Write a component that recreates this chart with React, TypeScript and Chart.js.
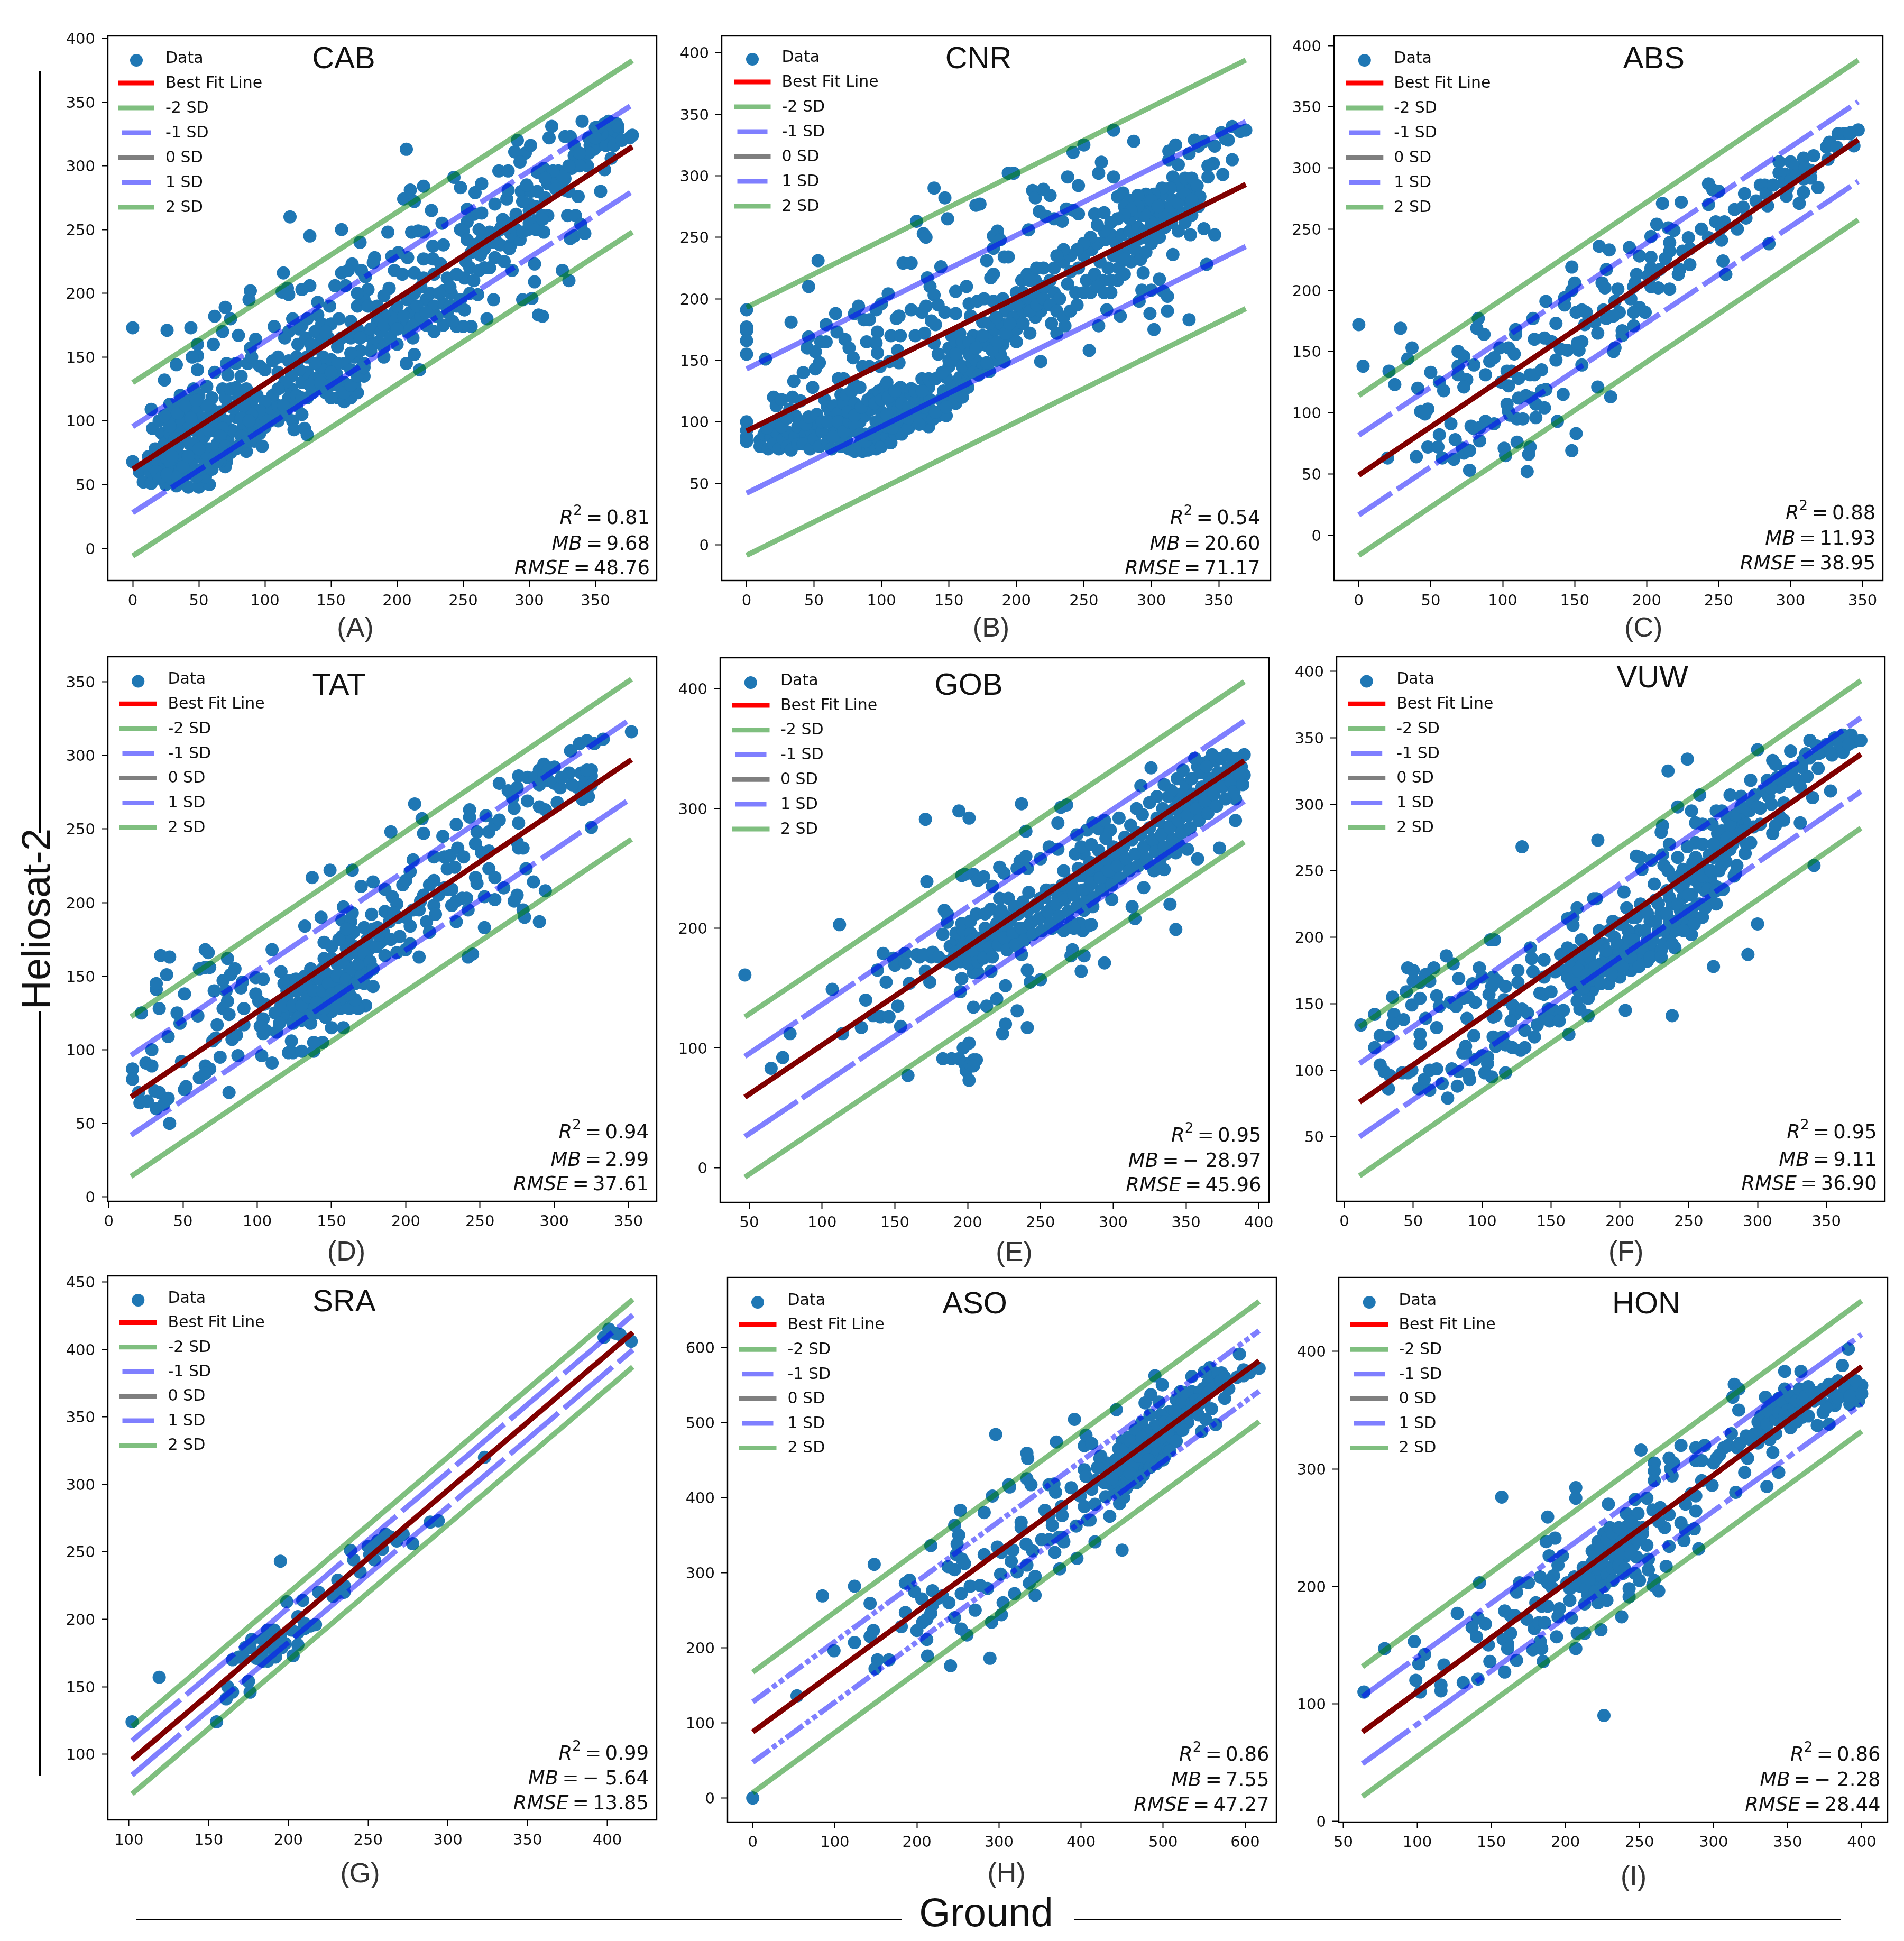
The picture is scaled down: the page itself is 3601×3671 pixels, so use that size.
import React, { useEffect, useRef } from "react";
import { Chart, registerables } from "chart.js";

Chart.register(...registerables);

// ---------- data ----------
const cabPoints = [[0,173],[26,171],[44,173],[0,68],[33,144],[24,132],[49,160],[49,151],[45,150],[49,140],[61,160],[62,182],[74,180],[70,189],[68,170],[80,167],[88,195],[89,202],[93,164],[89,157],[114,216],[119,260],[134,245],[158,250],[172,240],[107,174],[121,180],[117,204],[113,201],[118,199],[134,206],[128,203],[140,193],[149,190],[153,206],[161,206],[166,223],[158,216],[163,218],[173,218],[183,228],[182,224],[176,213],[178,203],[193,248],[194,204],[205,274],[210,281],[220,284],[213,272],[207,313],[226,265],[243,291],[248,283],[259,279],[264,286],[253,266],[264,263],[253,256],[234,255],[235,238],[227,237],[211,248],[216,249],[220,248],[201,232],[196,229],[208,228],[220,227],[227,227],[233,223],[198,218],[204,215],[213,216],[248,250],[250,249],[253,242],[256,232],[264,242],[263,230],[274,228],[281,225],[287,218],[266,220],[255,220],[251,212],[238,212],[235,202],[241,200],[261,199],[273,195],[268,180],[256,174],[250,174],[245,174],[251,187],[286,238],[274,243],[279,252],[274,270],[283,274],[277,296],[284,296],[291,320],[289,311],[297,310],[301,316],[293,303],[284,281],[294,280],[301,280],[306,280],[300,270],[298,285],[306,295],[311,298],[316,293],[322,291],[327,290],[332,298],[314,286],[327,281],[337,276],[314,261],[329,261],[335,261],[339,254],[342,247],[334,245],[331,243],[310,261],[306,257],[311,248],[299,250],[293,242],[286,247],[304,223],[304,209],[325,218],[330,210],[295,195],[302,196],[307,183],[310,182],[354,280],[357,297],[317,331],[315,322],[327,323],[331,323],[340,335],[334,316],[346,316],[334,308],[341,306],[344,300],[352,316],[362,306],[357,333],[366,333],[367,328],[362,324],[359,328],[357,321],[352,323],[349,313],[376,322],[378,324],[367,331],[361,318],
[5,60],[8,52],[13,60],[14,51],[15,94],[14,109],[20,100],[22,90],[17,78],[12,72],[10,65],[18,66],[22,70],[25,62],[20,55],[25,50],[29,55],[33,49],[38,53],[42,48],[44,60],[50,48],[58,50],[55,56],[47,62],[30,62],[34,67],[38,72],[28,78],[24,82],[28,90],[32,97],[30,105],[28,113],[35,113],[36,120],[42,116],[46,125],[50,120],[52,112],[47,108],[40,106],[37,100],[39,88],[43,82],[34,80],[45,75],[50,72],[55,68],[58,78],[52,85],[48,92],[54,96],[57,103],[60,118],[56,127],[62,138],[59,110],[62,92],[64,82],[68,75],[71,68],[70,64],[66,68],[72,85],[74,93],[70,100],[66,107],[72,112],[70,118],[68,125],[74,125],[78,126],[72,136],[71,145],[78,145],[82,135],[86,125],[90,115],[92,107],[85,110],[78,103],[76,92],[80,80],[86,76],[92,84],[98,80],[88,92],[84,97],[90,97],[96,90],[100,95],[104,100],[108,104],[94,120],[87,145],[90,150],[96,143],[100,140],[106,147],[110,138],[113,127],[118,118],[117,110],[124,112],[121,100],[116,105],[122,93],[130,94],[132,89],[128,105],[132,118],[136,122],[140,125],[128,130],[132,138],[138,133],[145,135],[150,128],[155,118],[160,115],[165,118],[170,122],[175,135],[172,140],[168,128],[160,130],[154,137],[147,143],[142,142],[150,148],[160,145],[168,150],[175,145],[172,155],[165,153],[124,150],[118,147],[110,150],[118,170],[115,165],[125,160],[131,165],[138,170],[128,175],[126,172],[132,180],[140,183],[143,176],[150,176],[148,165],[158,165],[156,180],[165,178],[170,190],[175,195],[170,200],[178,190],[170,172],[178,167],[182,160],[186,162],[190,158],[180,155],[190,150],[200,160],[207,145],[213,152],[217,140],[212,165],[205,175],[210,185],[198,185],[190,183],[185,178],[195,175],[190,198],[200,190],[208,195],[215,178],[222,175],[228,170],[235,175],[242,178],[222,195],[228,190],[225,200],[235,192],[245,190],[240,205],[218,205],[213,200],[220,212],[228,215],[245,215],[262,218],[270,220],[278,238],[285,235],[290,250],[295,248],[300,255],[305,250],[310,258],[300,265],[280,258],[270,248],[262,250],[258,262],[318,288],[325,287],[330,280],[322,296],[338,300],[345,310],[350,330],[358,316],[364,316],[370,320],[355,325]];
const cabClusterPoints = [[20,62],[24,72],[28,68],[32,60],[36,62],[40,58],[44,66],[48,56],[52,62],[56,74],[60,62],[62,72],[64,68],[18,60],[16,70],[22,56],[26,58],[30,72],[34,56],[38,64],[42,72],[46,82],[50,78],[54,88],[58,92],[60,100],[64,100],[68,94],[62,104],[56,112],[52,102],[46,98],[42,94],[36,90],[32,86],[28,96],[24,104],[34,106],[40,112],[44,102],[48,116],[66,88],[70,80],[74,75],[78,78],[82,88],[86,84],[92,92],[96,98],[100,104],[104,110],[110,112],[106,120],[100,115],[96,108],[90,105],[84,112],[80,118],[76,110],[82,102],[88,100],[110,100],[114,112],[120,125],[124,120],[128,118],[134,128],[142,130],[146,122],[150,118],[155,128],[160,122],[165,128],[170,135],[175,142],[165,140],[155,145],[150,138],[144,150],[138,145],[132,150],[126,140],[120,135],[115,130],[110,125],[125,148],[136,156],[142,162],[135,160],[146,170],[155,158],[165,165],[172,165],[180,172],[188,170],[195,165],[185,190],[190,175],[198,178],[205,182],[212,175],[218,182],[208,170],[200,172],[215,190],[222,185],[230,182],[238,185],[232,200],[240,190],[248,195],[255,200],[258,210],[252,225],[258,238],[266,235],[272,240],[278,250],[285,255],[290,262],[295,272],[305,268],[312,275],[320,282],[326,292],[318,296],[312,290],[330,300],[338,310],[345,322],[352,330],[360,335],[350,322]];
const cabLines = { x: [0, 378], best: [62, 315], m2: [-6, 248], m1: [28, 280], p1: [95.5, 348], p2: [130, 382.5] };
const cabStats = ["0.81", "9.68", "48.76"];

const cnrPoints = [[0,191],[0,177],[0,174],[0,166],[0,155],[0,100],[0,93],[0,88],[0,84],[14,151],[46,210],[53,231],[33,181],[35,133],[42,140],[49,128],[46,169],[45,160],[51,157],[54,148],[51,143],[55,165],[59,165],[59,179],[66,188],[67,173],[73,167],[76,160],[79,152],[80,188],[83,194],[87,183],[91,183],[96,191],[100,196],[105,204],[97,173],[107,170],[114,170],[89,165],[96,164],[97,156],[86,145],[91,145],[99,145],[106,149],[112,158],[113,148],[113,186],[111,184],[122,191],[116,229],[122,229],[126,263],[131,253],[133,250],[139,290],[147,282],[149,265],[144,226],[134,217],[136,210],[139,203],[142,195],[147,189],[130,189],[133,194],[137,182],[140,179],[125,170],[132,172],[139,164],[152,170],[155,206],[155,188],[163,210],[170,276],[173,277],[165,196],[171,198],[176,200],[183,198],[166,186],[175,181],[183,182],[178,231],[181,217],[183,220],[183,241],[186,255],[183,251],[188,248],[191,234],[194,234],[194,302],[198,302],[209,256],[212,288],[214,282],[220,289],[225,284],[217,271],[222,267],[228,265],[234,263],[237,273],[242,272],[246,269],[238,299],[246,292],[242,319],[250,325],[272,337],[287,328],[261,302],[263,311],[272,299],[275,283],[279,286],[258,269],[265,270],[254,158],[218,149],[180,141],[191,149],[135,96],[267,191],[277,186],[261,178],[291,198],[299,188],[302,175],[312,190],[328,183],[293,207],[300,207],[309,206],[312,202],[306,216],[294,221],[341,228],[316,236],[339,257],[347,252],[329,252],[360,313],[353,301],[347,324],[346,310],[342,308],[342,299],[352,335],[357,329],[360,340],[366,336],[370,337],[355,330],[332,329],[339,328],[335,324],[328,318],[313,320],[318,325],[313,313],[320,309],[316,299],
[10,85],[10,80],[13,90],[16,78],[18,88],[20,82],[22,92],[24,78],[27,86],[30,80],[33,77],[30,92],[36,88],[38,82],[38,96],[36,105],[40,100],[44,90],[42,82],[47,78],[48,92],[50,86],[50,99],[54,80],[56,92],[60,84],[63,78],[65,95],[70,80],[68,88],[74,85],[72,100],[76,78],[80,76],[78,93],[84,82],[86,76],[84,100],[90,77],[88,90],[92,80],[96,78],[94,92],[98,85],[100,80],[100,90],[104,88],[104,96],[107,83],[110,90],[108,102],[112,96],[115,90],[117,100],[120,95],[122,105],[118,110],[126,100],[128,108],[132,103],[136,110],[138,102],[142,105],[145,110],[148,105],[150,120],[146,125],[155,115],[158,123],[160,120],[152,130],[148,136],[158,136],[162,132],[165,140],[150,145],[156,150],[160,145],[167,148],[170,150],[175,145],[185,150],[190,163],[188,155],[195,170],[200,165],[196,178],
[20,120],[22,113],[26,118],[34,120],[40,117],[58,118],[60,112],[62,108],[65,113],[68,107],[72,115],[70,122],[74,122],[78,125],[72,135],[68,135],[80,115],[80,130],[84,128],[88,105],[92,110],[94,122],[98,125],[100,108],[102,128],[104,132],[108,115],[112,110],[114,120],[114,128],[122,122],[126,118],[130,112],[133,120],[135,128],[130,135],[122,127],[142,155],[150,160],[155,165],[160,160],[165,155],[158,172],[168,170],[172,165],[178,162],[180,170],[184,175],[188,180],[192,190],[198,185],[200,175],[205,180],[210,172],[214,185],[218,190],[222,195],[226,180],[230,172],[236,178],[205,195],[210,200],[215,205],[222,210],[228,205],[232,200],[238,212],[244,205],[200,205],[204,215],[208,220],[214,215],[220,225],[228,225],[235,230],[240,222],[246,225],[252,215],[258,220],[264,215],[270,205],[275,215],[250,235],[256,240],[262,230],[268,225],[272,235],[276,225],[280,220],[260,245],[266,248],[270,252],[274,245],[280,238],[285,230],[288,240],[292,232],[296,238],[300,245],[278,252],[284,255],[290,258],[294,250],[300,255],[306,250],[284,265],[288,272],[292,268],[296,278],[300,272],[305,265],[310,258],[315,262],[320,255],[325,262],[330,268],[335,275],[326,270],[320,270],[314,272],[308,275],[304,280],[310,285],[316,280],[322,282],[328,278],[332,285],[326,290],[320,292],[314,290],[308,290],[302,285],[296,285],[290,284],[284,280],[280,275],[325,298],[330,298],[334,292],[336,283]];
const cnrClusterPoints = [[15,95],[22,100],[26,96],[30,103],[32,110],[44,98],[46,104],[52,106],[56,100],[60,100],[64,88],[68,100],[72,92],[76,100],[80,98],[84,90],[88,84],[92,90],[96,100],[100,100],[104,106],[108,95],[112,102],[116,108],[120,103],[124,110],[128,98],[132,112],[136,118],[140,108],[144,118],[148,112],[152,122],[156,128],[160,130],[164,128],[168,140],[172,138],[178,148],[182,158],[186,165],[192,172],[75,108],[80,105],[85,112],[90,118],[95,115],[100,118],[105,120],[110,125],[115,115],[120,112],[125,125],[130,125],[135,135],[140,135],[145,140],[150,150],[155,155],[160,165],[165,165],[170,160],[175,170],[180,180],[185,185],[195,180],[205,190],[210,190],[215,195],[220,200],[225,195],[230,190],[235,185],[240,190],[245,195],[250,205],[255,205],[260,210],[265,205],[270,215],[275,235],[280,232],[285,245],[290,248],[295,255],[300,262],[305,258],[310,268],[315,275],[320,278],[325,285],[330,280],[295,268],[300,280],[305,275],[290,275],[285,272],[280,268],[275,265],[270,262],[265,255],[260,260],[255,250],[250,245],[245,240],[240,235],[235,240],[230,235],[225,215],[220,210],[215,225],[210,215],[205,205],[200,195],[195,195],[190,200]];
const cnrLines = { x: [0, 370], best: [92.5, 293], m2: [-8.5, 192], m1: [42, 242.5], p1: [143, 344], p2: [193, 394] };
const cnrStats = ["0.54", "20.60", "71.17"];

const absPoints = [[0,172],[3,138],[29,169],[37,153],[34,144],[21,134],[25,123],[41,120],[50,133],[20,63],[40,64],[48,72],[43,101],[48,103],[46,99],[56,125],[59,118],[64,91],[56,82],[55,72],[58,63],[66,62],[67,78],[72,71],[73,67],[77,69],[77,53],[78,89],[80,87],[84,77],[69,150],[73,146],[69,138],[69,131],[75,127],[73,121],[80,139],[82,169],[83,177],[87,164],[88,131],[91,142],[94,145],[98,153],[104,153],[108,148],[109,168],[109,164],[88,93],[94,91],[84,88],[103,134],[106,134],[99,125],[104,122],[111,128],[103,107],[104,101],[105,98],[110,95],[114,95],[111,112],[116,114],[120,112],[123,107],[129,104],[123,96],[101,71],[102,65],[110,76],[119,72],[118,66],[117,52],[119,131],[122,131],[127,135],[127,118],[130,119],[122,160],[129,161],[121,177],[130,191],[137,173],[134,158],[140,152],[145,151],[137,143],[142,115],[138,93],[151,83],[148,69],[155,139],[155,158],[153,151],[152,157],[143,188],[143,194],[148,200],[150,206],[148,219],[151,182],[155,184],[158,182],[157,172],[164,174],[166,165],[167,236],[174,233],[172,217],[169,206],[171,202],[180,201],[178,191],[181,182],[172,177],[177,179],[170,184],[183,167],[183,163],[178,153],[177,150],[191,171],[166,121],[175,113],[189,193],[195,186],[191,182],[199,182],[188,235],[195,228],[193,213],[192,206],[191,203],[203,227],[203,244],[207,254],[211,271],[224,272],[215,251],[219,249],[216,239],[216,232],[213,226],[203,218],[205,213],[201,212],[209,217],[203,203],[208,202],[216,201],[222,213],[223,217],[230,221],[225,232],[230,234],[229,243],[238,250],[243,243],[252,241],[253,224],[255,213],[285,238],[243,287],[246,282],[250,281],[243,270],[248,256],[254,256],[252,251],[263,250],[261,266],[267,268],[269,259],[268,279],[276,273],[279,286],[282,286],[284,269],[283,279],[288,286],[292,305],[292,296],[296,295],[300,305],[303,301],[297,277],[298,284],[306,271],[309,280],[309,291],[314,292],[319,284],[314,298],[309,308],[316,310],[325,317],[327,321],[326,307],[332,317],[333,328],[337,328],[342,329],[344,318],[347,331],[341,328],[295,288],[300,290],[304,294],[310,300]];
const absLines = { x: [0, 347], best: [49, 323], m2: [-16.5, 257.5], m1: [16.5, 289], p1: [81.6, 354], p2: [114, 388] };
const absStats = ["0.88", "11.93", "38.95"];

const tatPoints = [[16,87],[16,80],[20,71],[21,64],[26,65],[22,125],[25,91],[29,89],[29,100],[31,72],[34,71],[32,60],[37,63],[40,67],[41,50],[34,128],[32,141],[32,145],[35,164],[41,163],[39,151],[40,109],[46,125],[48,118],[51,138],[60,123],[49,92],[51,73],[52,75],[61,81],[65,89],[68,87],[65,84],[70,106],[72,108],[75,95],[81,71],[83,107],[86,110],[87,96],[73,117],[77,128],[81,124],[61,155],[65,156],[68,156],[65,168],[67,166],[80,162],[85,155],[82,151],[77,147],[71,140],[79,140],[80,133],[89,142],[91,128],[91,117],[90,146],[99,149],[104,148],[99,138],[101,133],[105,131],[104,121],[102,116],[104,111],[106,113],[103,96],[110,91],[113,112],[110,168],[116,153],[121,147],[118,145],[121,98],[124,98],[130,99],[138,99],[144,105],[138,105],[123,106],[132,184],[137,217],[149,222],[164,222],[143,190],[145,173],[145,162],[150,162],[136,155],[158,197],[164,193],[157,188],[163,187],[157,177],[162,177],[160,169],[170,211],[178,214],[177,192],[172,183],[178,182],[181,183],[186,209],[190,248],[191,204],[194,199],[186,194],[192,193],[189,187],[196,177],[183,173],[186,164],[194,166],[200,168],[198,212],[200,215],[203,221],[205,229],[206,267],[211,257],[212,247],[219,231],[219,215],[216,212],[209,163],[203,172],[203,184],[209,195],[210,201],[214,187],[219,198],[220,192],[216,180],[225,245],[226,231],[228,223],[230,232],[233,224],[234,253],[235,237],[239,231],[228,209],[231,209],[234,201],[238,203],[241,203],[231,198],[234,187],[242,195],[242,163],[245,165],[247,217],[248,213],[247,240],[248,248],[243,263],[243,258],[253,204],[260,202],[253,183],[256,223],[260,217],[251,234],[256,235],[254,259],[256,248],[260,253],[263,256],[266,210],[263,281],[269,276],[275,278],[273,264],[272,271],[276,254],[275,241],[276,237],[279,237],[281,223],[275,205],[273,201],[286,214],[294,208],[279,195],[280,190],[290,187],[282,269],[276,286],[282,285],[287,285],[290,290],[293,294],[300,292],[293,286],[296,283],[300,281],[304,278],[290,265],[294,263],[302,268],[310,288],[318,288],[325,290],[325,286],[321,283],[316,278],[319,270],[322,275],[325,251],[311,303],[317,308],[322,310],[327,308],[333,311],[352,316],[323,272],[325,280],
[116,130],[118,122],[120,135],[122,128],[124,118],[126,140],[126,125],[128,132],[130,148],[130,120],[132,140],[134,128],[136,145],[136,118],[138,135],[140,125],[140,150],[142,138],[144,130],[144,155],[146,122],[146,142],[148,132],[150,150],[150,126],[152,138],[154,145],[154,158],[156,128],[156,133],[158,150],[160,140],[160,158],[162,128],[164,146],[164,135],[166,155],[168,150],[168,165],[170,160],[172,145],[172,155],[175,168],[175,160],[178,143],[173,130],[168,128],[166,134],[158,115],[150,115],[145,128]];
const tatClusterPoints = [[112,125],[115,118],[118,130],[120,140],[124,130],[126,148],[128,122],[130,130],[132,150],[134,136],[136,124],[138,140],[140,132],[142,148],[144,140],[146,152],[148,145],[150,138],[152,130],[154,150],[156,140],[158,160],[160,148],[162,138],[162,165],[164,155],[166,145],[166,170],[168,158],[170,170],[170,150],[172,165],[174,175],[174,152],[176,160],[178,155],[180,170],[182,178],[165,180],[160,182],[155,175],[150,170],[185,180],[190,175],[195,190],[200,190],[205,195],[212,205],[222,205],[226,210],[290,280],[296,290],[305,285],[312,280],[322,290],[318,272]];
const tatLines = { x: [15, 352], best: [68, 297], m2: [14, 243], m1: [42, 271], p1: [96.3, 325], p2: [122.5, 351.7] };
const tatStats = ["0.94", "2.99", "37.61"];

const gobPoints = [[47,161],[65,83],[73,92],[78,112],[112,203],[107,149],[114,112],[159,77],[171,291],[194,298],[201,292],[172,239],[237,304],[240,281],[264,301],[268,303],[262,288],[326,334],[319,319],[384,308],[384,290],[373,267],[358,258],[351,266],[343,263],[343,199],[339,220],[313,218],[315,208],[299,224],[321,234],[335,249],[294,171],[280,177],[278,164],[272,182],[271,177],[250,157],[243,155],[241,165],[226,152],[237,178],[234,185],[227,186],[220,141],[213,135],[204,134],[234,131],[226,120],[224,112],[241,117],[201,104],[197,100],[204,90],[183,91],[189,91],[194,91],[198,87],[199,81],[201,73],[202,86],[206,90],[204,85],[130,140],[127,117],[135,127],[140,126],[146,126],[152,135],[154,118],[144,155],[138,165],[142,179],[149,175],[150,169],[157,179],[157,171],[160,154],[167,176],[171,164],[174,155],[175,176],[195,147],[196,158],[204,163],[207,163],[216,164],
[165,178],[170,178],[176,180],[180,176],[186,172],[190,175],[194,180],[198,172],[202,178],[205,176],[188,185],[192,190],[196,188],[200,186],[204,185],[208,183],[212,180],[192,196],[197,198],[202,196],[206,192],[210,192],[214,188],[218,186],[196,204],[202,206],[183,195],[186,205],[184,215],[186,212],[206,212],[212,200],[216,198],[220,204],[224,200],[230,196],[234,190],[212,212],[216,216],[222,210],[226,210],[230,208],[236,200],[240,196],[244,205],[196,244],[198,245],[204,245],[207,240],[211,243],[217,235],[222,225],[223,215],[225,246],[222,251],[228,225],[232,218],[236,256],[241,250],[240,260],[234,250],[238,222],[242,230],[246,218],[250,225],[254,232],[258,218],[262,225],[266,232],[262,207],[266,198],[258,200],[248,220],[254,212],[250,258],[256,268],[262,266],[266,248],[270,240],[274,232],[278,220],[282,226],[286,218],[276,250],[280,244],[284,236],[288,242],[292,232],[296,238],[280,262],[284,255],[288,252],[292,250],[296,248],[300,246],[274,262],[278,268],[282,282],[286,288],[290,283],[294,290],[298,282],[304,292],[308,276],[312,286],[316,280],[300,268],[304,262],[308,255],[312,250],[320,260],[324,254],[328,248],[332,255],[336,262],[340,265],[345,270],[350,282],[325,270],[330,272],[334,280],[338,285],[342,288],[346,294],[350,298],[354,305],[358,310],[362,315],[366,325],[330,292],[334,300],[338,310],[342,300],[346,312],[350,320],[354,325],[358,335],[362,338],[366,340],[370,340],[374,342],[378,345],[382,342],[386,340],[390,345],[356,342],[360,330],[364,335],[368,345],[372,330],[376,322],[380,325],[384,330],[388,335],[390,328],[340,315],[344,325],[348,332],[352,310],[356,300],[360,295],[364,305],[368,310],[372,318],[345,305],[335,320],[330,310],[325,305],[320,295],[316,300],[280,215],[283,202],[277,204],[279,198],[285,203],[271,205],[273,200],[300,255],[290,265],[295,275],[285,270],[275,278]];
const gobClusterPoints = [[190,170],[192,180],[195,172],[197,185],[199,176],[201,170],[203,190],[205,180],[207,172],[209,186],[211,175],[213,195],[215,184],[217,176],[219,196],[221,186],[223,202],[225,192],[227,182],[229,206],[231,196],[233,186],[235,212],[237,200],[239,190],[241,214],[243,204],[245,195],[247,220],[249,208],[251,198],[253,226],[255,214],[257,204],[259,232],[261,220],[263,210],[265,236],[267,224],[269,214],[271,238],[273,228],[275,218],[277,244],[279,232],[281,222],[283,250],[285,238],[287,226],[289,254],[291,242],[293,232],[295,258],[297,248],[299,236],[301,264],[303,252],[305,242],[307,268],[309,258],[311,248],[313,274],[315,262],[317,252],[319,278],[321,268],[323,258],[325,284],[327,274],[329,264],[331,290],[333,278],[335,268],[337,296],[339,284],[341,274],[343,300],[345,290],[347,280],[349,306],[351,294],[353,284],[355,312],[357,300],[359,290],[361,318],[363,306],[365,296],[367,322],[369,312],[371,302],[373,328],[375,318],[377,308],[379,334],[381,322],[383,314],[385,342],[387,328],[389,320]];
const gobLines = { x: [47, 390], best: [59, 340], m2: [-8, 272], m1: [26, 306], p1: [93, 373], p2: [126, 406] };
const gobStats = ["0.95", "\u2212 28.97", "45.96"];

const vuwPoints = [[12,134],[22,142],[26,126],[32,125],[22,117],[26,104],[29,99],[33,96],[32,86],[35,155],[36,142],[35,135],[43,138],[45,159],[46,177],[50,175],[50,167],[49,149],[55,154],[55,127],[55,120],[59,139],[67,132],[59,172],[62,167],[55,166],[65,177],[74,186],[79,180],[67,156],[69,148],[77,151],[81,148],[83,169],[89,139],[86,154],[93,165],[95,151],[90,155],[98,177],[100,170],[94,126],[88,118],[86,113],[88,113],[95,108],[100,111],[104,110],[104,105],[102,98],[107,95],[42,98],[46,98],[49,100],[54,86],[58,93],[62,100],[62,85],[67,101],[71,90],[75,79],[78,101],[82,88],[83,99],[90,97],[91,93],[106,198],[109,198],[108,170],[111,167],[107,163],[105,157],[108,149],[108,140],[110,141],[117,163],[116,153],[122,149],[124,142],[121,137],[108,125],[115,125],[110,118],[117,119],[117,98],[122,117],[128,115],[131,117],[131,130],[129,146],[133,143],[138,125],[140,134],[126,166],[126,175],[135,192],[136,184],[137,174],[145,183],[145,170],[142,158],[145,157],[150,159],[153,174],[152,145],[148,146],[145,139],[149,137],[156,137],[159,145],[163,127],[157,187],[162,192],[162,214],[166,209],[169,222],[166,215],[181,229],[183,229],[184,273],[129,268],[172,198],[177,141],[171,146],[169,152],[177,154],
[204,145],[238,141],[268,178],[293,187],[300,210],[252,202],[236,201],[275,236],[283,246],[235,325],[249,334],[300,341],[258,307],[242,298],[252,295],[231,284],[230,279],[236,270],[212,261],[215,260],[223,258],[216,251],[231,262],[203,234],[341,254],[331,286],[353,310],[340,305],[324,340],[311,333],[313,330],[295,318],[307,318],[280,307],[288,306],[298,307],[302,297],[308,306],[310,300],[319,301],[316,313],[322,317],[326,327],[329,318],[336,321],[331,313],[344,327],[335,338],[333,333],[338,348],[343,344],[346,339],[353,339],[354,337],[357,348],[362,339],[364,348],[368,352],[370,347],[375,348],[362,352],[316,291],[319,288],[311,278],[313,284],[295,271],[291,263],[285,254],[284,248],[277,257],[274,254],[302,285],[297,283],[291,286],[285,285],[288,294],[274,295],[270,295],[267,285],[271,278],[276,272],[280,266],[283,282],[255,286],[260,285],[255,271],[260,270],[249,268],[242,260],[246,251],[253,256],[259,254],[257,245],[266,243],[260,239],[246,239],[239,245],[232,254],[252,221],[243,213],
[165,165],[168,172],[170,180],[174,170],[176,182],[178,175],[180,190],[184,170],[186,180],[188,195],[190,176],[192,165],[193,185],[196,200],[198,178],[199,190],[202,210],[204,185],[206,198],[208,175],[209,215],[212,192],[214,205],[216,185],[218,222],[220,198],[222,212],[224,190],[226,228],[228,205],[230,218],[232,195],[234,235],[236,212],[238,225],[240,205],[242,240],[244,220],[246,230],[248,212],[250,250],[252,232],[254,215],[256,242],[258,225],[260,255],[262,235],[264,246],[266,228],[268,260],[270,238],[272,250],[274,268],[276,278],[278,290],[265,262],[255,260],[245,248],[235,250],[225,240],[215,225],[205,222],[195,212],[185,205],[175,192],[165,185],[160,175],[170,160],[180,160],[190,186],[200,170],[210,178],[220,182],[230,190],[240,192],[250,205],[260,215],[270,225]];
const vuwClusterPoints = [[162,170],[164,178],[166,190],[168,165],[170,175],[172,188],[174,162],[176,172],[178,185],[180,168],[182,178],[184,195],[186,165],[188,175],[190,190],[192,205],[194,172],[196,182],[198,195],[200,210],[202,178],[204,190],[206,205],[208,185],[210,198],[212,215],[214,178],[216,192],[218,205],[220,218],[222,185],[224,198],[226,212],[228,225],[230,185],[232,205],[234,218],[236,230],[238,195],[240,212],[242,225],[244,238],[246,205],[248,220],[250,232],[252,244],[254,210],[256,225],[258,238],[260,246],[262,222],[264,236],[266,250],[268,270],[270,235],[272,262],[274,280],[276,262],[278,275],[280,285],[282,270],[284,292],[286,275],[288,298],[290,280],[292,270],[294,295],[296,302],[300,298],[304,310],[310,312],[314,320],[320,325],[326,320],[332,328],[338,335],[344,338],[350,345],[356,350],[360,345],[366,345]];
const vuwLines = { x: [11, 375], best: [76, 337.6], m2: [20.5, 282], m1: [50, 309.6], p1: [105, 365], p2: [132.5, 393] };
const vuwStats = ["0.95", "9.11", "36.90"];

const sraPoints = [[102,124],[119,157],[155,124],[161,141],[162,150],[165,146],[175,154],[176,146],[203,173],[206,181],[195,243],[199,213],[209,214],[219,220],[206,202],[210,197],[217,196],[214,195],[210,193],[206,190],[202,192],[165,170],[169,172],[172,171],[173,179],[177,185],[176,179],[180,171],[184,169],[187,169],[192,172],[196,179],[184,185],[187,192],[191,192],[192,190],[195,187],[190,183],[187,180],[191,177],[198,182],[184,177],[231,229],[235,225],[228,217],[232,220],[235,220],[239,251],[241,244],[245,235],[250,254],[251,248],[254,244],[253,251],[256,258],[259,252],[261,263],[264,261],[268,258],[272,263],[278,256],[289,272],[294,273],[323,320],[398,409],[401,415],[405,412],[408,411],[415,406]];
const sraLines = { x: [102, 416], best: [96, 412.6], m2: [70.6, 387], m1: [84.5, 399.7], p1: [110, 425.5], p2: [120.6, 437] };
const sraStats = ["0.99", "\u2212 5.64", "13.85"];

const asoPoints = [[0,0],[54,136],[85,269],[99,196],[124,282],[124,207],[143,259],[148,311],[143,215],[147,223],[152,184],[149,172],[166,184],[181,228],[186,247],[186,286],[191,290],[197,275],[206,265],[200,223],[207,234],[212,238],[212,211],[213,189],[217,336],[219,276],[219,257],[217,246],[226,266],[231,269],[239,260],[238,308],[246,304],[241,176],[246,240],[246,363],[253,383],[251,350],[249,338],[248,324],[255,318],[258,312],[254,272],[254,225],[261,217],[265,282],[271,250],[277,283],[282,380],[282,324],[286,279],[289,186],[291,234],[292,402],[296,484],[298,334],[302,298],[303,327],[305,260],[303,244],[312,417],[313,414],[315,315],[317,330],[319,272],[327,367],[327,360],[322,301],[333,338],[334,459],[335,452],[334,425],[339,417],[334,310],[337,286],[344,295],[344,270],[341,329],[352,344],[356,383],[361,417],[367,418],[369,407],[361,376],[365,363],[377,376],[376,388],[377,347],[379,341],[373,347],[361,344],[368,327],[374,305],[392,504],[370,474],[388,413],[394,362],[395,319],[404,469],[406,483],[413,472],[404,437],[406,428],[399,402],[404,388],[408,370],[411,370],[417,391],[417,341],[423,452],[425,440],[432,446],[430,401],[435,375],[447,392],[450,330],[443,517],[413,411],[418,423],[490,562],[499,550],[485,537],[478,526],[495,527],[519,489],[521,541],[535,561],[593,591],[598,570],[617,572],[605,566],[598,562],[564,497],[547,488],[575,532],[571,566],[557,573],[550,567],[559,563],[567,565],[555,553],[549,545],[535,541],[545,541],[559,518],[543,510],[552,504],[538,521],[526,518],[516,530],[523,527],[528,504],[509,472],[507,514],[497,510],
[440,430],[444,445],[446,418],[448,460],[450,435],[452,470],[454,450],[456,425],[458,480],[460,440],[462,460],[464,430],[466,490],[468,452],[470,475],[472,435],[474,500],[476,460],[478,440],[480,485],[482,455],[484,510],[486,470],[488,445],[490,495],[492,460],[494,480],[496,450],[498,500],[500,470],[502,455],[504,490],[506,465],[510,480],[514,495],[518,505],[522,510],[526,530],[530,500],[450,475],[446,465],[442,408],[436,418],[432,430],[428,420],[424,455],[420,440],[455,412],[462,420],[472,425]];
const asoClusterPoints = [[435,440],[438,425],[442,450],[445,440],[448,455],[452,445],[455,465],[458,450],[460,475],[464,445],[466,465],[470,455],[474,480],[478,465],[482,450],[486,490],[490,475],[494,495],[498,480],[502,500],[506,485],[510,500],[514,515],[520,495],[525,540],[530,515],[535,525],[540,530],[545,525],[550,530],[555,540],[560,545],[565,550],[570,555],[575,560],[580,545],[590,560],[445,405],[452,400],[460,432],[468,420],[476,430],[484,440],[492,445],[500,450],[508,462],[516,475],[524,490]];
const asoLines = { x: [0, 617], best: [88, 582], m2: [7, 501], m1: [47.5, 541.5], p1: [128, 622], p2: [167.5, 661] };
const asoStats = ["0.86", "7.55", "47.27"];

const honPoints = [[64,110],[78,147],[98,153],[105,142],[101,134],[99,120],[102,110],[118,133],[116,116],[116,111],[131,118],[127,177],[137,165],[140,157],[141,173],[146,168],[142,203],[141,121],[148,150],[149,136],[159,127],[158,155],[161,151],[161,147],[159,179],[163,175],[163,160],[167,137],[167,195],[169,203],[175,203],[174,172],[166,175],[178,146],[184,147],[183,153],[185,136],[179,164],[182,169],[186,169],[180,186],[184,183],[188,183],[183,208],[188,203],[191,199],[192,209],[195,218],[198,226],[189,226],[187,238],[193,241],[188,259],[157,276],[194,157],[195,174],[196,181],[201,203],[203,188],[203,198],[204,173],[207,147],[208,160],[213,160],[213,185],[215,193],[207,284],[207,275],[212,216],[213,205],[224,163],[226,90],[222,186],[228,188],[229,270],[229,205],[239,211],[243,198],[243,191],[238,174],[241,262],[249,262],[248,225],[247,211],[250,205],[251,316],[247,274],[255,275],[249,250],[255,235],[256,223],[256,214],[260,205],[259,201],[263,196],[268,217],[260,305],[260,298],[260,290],[270,309],[273,305],[271,300],[272,294],[264,267],[259,265],[270,261],[270,234],[267,250],[263,255],[278,320],[278,254],[281,270],[285,279],[288,277],[288,264],[280,239],[281,248],[287,249],[290,232],[288,318],[294,320],[288,307],[292,307],[292,290],[299,286],[302,309],[307,318],[314,372],[317,368],[313,361],[317,350],[315,280],[323,309],[321,297],[336,285],[344,297],[340,314],[348,383],[359,383],[391,402],[387,388],[400,371],[378,338],[370,337],[374,348],[382,354],[359,362],[360,344],[335,361],
[216,215],[218,230],[220,205],[222,238],[224,220],[226,210],[226,245],[228,228],[230,215],[230,250],[232,235],[234,222],[234,245],[236,230],[238,240],[240,225],[240,250],[242,235],[244,245],[246,252],[246,235],[250,240],[252,250],[222,205],[212,206],[218,198],[224,200],[310,320],[316,318],[322,328],[328,330],[334,332],[338,325],[332,345],[336,350],[340,345],[344,352],[346,340],[350,355],[352,345],[354,362],[358,350],[362,355],[366,362],[370,365],[374,368],[378,372],[384,375],[388,365],[392,372],[396,368],[398,358],[392,355],[386,362],[380,356],[376,352],[344,360],[348,368],[352,335],[356,340],[364,345],[342,330],[330,322],[304,312],[300,305]];
const honClusterPoints = [[214,212],[218,220],[220,226],[222,215],[224,232],[226,218],[228,240],[228,210],[230,228],[232,245],[232,215],[234,232],[236,250],[236,218],[238,238],[238,228],[240,215],[242,242],[244,228],[244,255],[248,240],[252,245],[206,208],[210,200],[214,198],[216,206],[220,195],[222,192],[226,200],[232,205],[330,340],[334,345],[336,338],[338,348],[340,355],[342,342],[344,348],[346,358],[348,345],[350,350],[352,362],[354,352],[356,358],[358,368],[360,358],[362,362],[364,370],[368,358],[372,360],[376,368],[380,365],[384,360],[388,372],[392,362],[396,375],[400,364],[325,325],[318,322],[312,330]];
const honLines = { x: [63, 400], best: [76, 387], m2: [21, 332], m1: [49, 355], p1: [106, 414.5], p2: [131.6, 443] };
const honStats = ["0.86", "\u2212 2.28", "28.44"];

const legendLabels = ["Data", "Best Fit Line", "-2 SD", "-1 SD", "0 SD", "1 SD", "2 SD"];

const ticksStep50To400 = [50, 100, 150, 200, 250, 300, 350, 400];
const ticks0To350 = [0, 50, 100, 150, 200, 250, 300, 350];
const ticks0To400 = [0, 50, 100, 150, 200, 250, 300, 350, 400];
const ticks0To400By100 = [0, 100, 200, 300, 400];
const ticks0To600By100 = [0, 100, 200, 300, 400, 500, 600];
const ticks100To400 = [100, 150, 200, 250, 300, 350, 400];
const ticks100To450 = [100, 150, 200, 250, 300, 350, 400, 450];
const ticks50To400Y = [50, 100, 150, 200, 250, 300, 350, 400];

// ---------- layout (page pixels) ----------
const PAD_L = 130, PAD_T = 30, PAD_R = 50, PAD_B = 140;
const panels = [
  { name: "CAB", tag: "(A)", pts: [...cabPoints, ...cabClusterPoints], lines: cabLines, stats: cabStats, xTicks: ticks0To350, yTicks: ticks0To400, xr: [-18.8, 396.4], yr: [-25.3, 401.9], f: [204, 68, 1242, 1098], title: [650, 113], letter: [672, 1190], stat: [1229, 981, 1030, 1076], leg: [224, 292, 313, 111, 47], dash: [75, 12] },
  { name: "CNR", tag: "(B)", pts: [...cnrPoints, ...cnrClusterPoints], lines: cnrLines, stats: cnrStats, xTicks: ticks0To350, yTicks: ticks0To400, xr: [-18.4, 388.4], yr: [-29, 413.6], f: [1364.5, 68, 2402, 1098], title: [1850, 113], letter: [1874, 1190], stat: [2383, 981, 1030, 1076], leg: [1388, 1457, 1478, 109, 47], dash: [] },
  { name: "ABS", tag: "(C)", pts: absPoints, lines: absLines, stats: absStats, xTicks: ticks0To350, yTicks: ticks0To400, xr: [-17.2, 364.1], yr: [-37.1, 407.8], f: [2522.7, 68, 3560.6, 1098], title: [3127.5, 113], letter: [3108, 1190], stat: [3547, 972, 1020, 1067], leg: [2545, 2616, 2636, 111, 47], dash: [75, 12] },
  { name: "TAT", tag: "(D)", pts: [...tatPoints, ...tatClusterPoints], lines: tatLines, stats: tatStats, xTicks: ticks0To350, yTicks: ticks0To350, xr: [-0.6, 369], yr: [-2.9, 367], f: [204, 1242, 1242, 2272], title: [641, 1298], letter: [655, 2370], stat: [1227, 2143, 2195, 2241], leg: [225.5, 297, 317.5, 1285.4, 46.8], dash: [90, 14] },
  { name: "GOB", tag: "(E)", pts: [...gobPoints, ...gobClusterPoints], lines: gobLines, stats: gobStats, xTicks: ticksStep50To400, yTicks: ticks0To400By100, xr: [30, 407], yr: [-29, 426], f: [1362, 1243.6, 2400, 2273.7], title: [1832, 1298], letter: [1918, 2370], stat: [2385.5, 2149, 2197, 2243], leg: [1384, 1455.5, 1476, 1287.7, 46.8], dash: [120, 10] },
  { name: "VUW", tag: "(F)", pts: [...vuwPoints, ...vuwClusterPoints], lines: vuwLines, stats: vuwStats, xTicks: ticks0To350, yTicks: ticks50To400Y, xr: [-5.6, 392.5], yr: [1.4, 411], f: [2527.8, 1242, 3565, 2272], title: [3125, 1284], letter: [3075, 2370], stat: [3549.5, 2143, 2195, 2240.5], leg: [2549, 2620, 2641, 1285.4, 46.8], dash: [90, 12] },
  { name: "SRA", tag: "(G)", pts: sraPoints, lines: sraLines, stats: sraStats, xTicks: ticks100To400, yTicks: ticks100To450, xr: [86.8, 431], yr: [51.3, 454.5], f: [204, 2413, 1242, 3442], title: [651, 2464], letter: [681, 3546], stat: [1227, 3318, 3365, 3412], leg: [225.5, 297, 317.5, 2456, 46.4], dash: [120, 14] },
  { name: "ASO", tag: "(H)", pts: [...asoPoints, ...asoClusterPoints], lines: asoLines, stats: asoStats, xTicks: ticks0To600By100, yTicks: ticks0To600By100, xr: [-30.7, 638], yr: [-32, 693], f: [1375.5, 2416, 2413.3, 3446], title: [1843, 2468], letter: [1903, 3546], stat: [2400, 3320.6, 3368, 3415], leg: [1397, 1468, 1489, 2460, 46.6], dash: [40, 6, 10, 6, 10, 6] },
  { name: "HON", tag: "(I)", pts: [...honPoints, ...honClusterPoints], lines: honLines, stats: honStats, xTicks: ticksStep50To400, yTicks: ticks0To400By100, xr: [47, 417.5], yr: [-0.7, 463], f: [2531.5, 2416, 3569, 3446], title: [3113, 2468], letter: [3089, 3552], stat: [3556, 3320.6, 3368, 3415], leg: [2553.5, 2625, 2645, 2460, 46.6], dash: [110, 10, 15, 10] },
];

const BLUE = "rgba(0,0,255,0.5)";
const GREEN = "rgba(0,128,0,0.5)";
const BLACK50 = "rgba(0,0,0,0.5)";
const SCATTER = "#1f77b4";
const TICK_FONT = { family: "'DejaVu Sans'", size: 29 };
const EQ = "\u2009=\u2009";

function zip(xs: number[], ys: number[]) {
  return xs.map((x, i) => ({ x, y: ys[i] }));
}

function drawStats(ctx: any, right: number, y: number, segs: any[]) {
  const fontFor = (s: any) =>
    s.sup ? "26px 'DejaVu Sans'" : s.it ? "italic 37px 'DejaVu Sans'" : "37px 'DejaVu Sans'";
  let w = 0;
  segs.forEach((s) => {
    ctx.font = fontFor(s);
    w += ctx.measureText(s.t).width;
  });
  let x = right - w;
  ctx.textAlign = "left";
  ctx.textBaseline = "middle";
  segs.forEach((s) => {
    ctx.font = fontFor(s);
    ctx.fillText(s.t, x, s.sup ? y - 14 : y);
    x += ctx.measureText(s.t).width;
  });
}

function PanelChart({ p }: { p: any }) {
  const ref = useRef<HTMLCanvasElement>(null);
  const [L, T, R, B] = p.f;
  const left = L - PAD_L;
  const top = T - PAD_T;
  const width = Math.round(R - L + PAD_L + PAD_R);
  const height = Math.round(B - T + PAD_T + PAD_B);

  useEffect(() => {
    const line = (label: string, ys: number[], color: string, dash: number[], order: number) => ({
      label,
      data: zip(p.lines.x, ys),
      showLine: true,
      pointRadius: 0,
      borderColor: color,
      backgroundColor: color,
      borderWidth: 10,
      borderDash: dash,
      borderCapStyle: "butt",
      order,
    });
    const decor = {
      id: "decor",
      afterDraw(chart: any) {
        const ctx = chart.ctx;
        const ox = left;
        const oy = top;
        const a = chart.chartArea;
        ctx.save();
        ctx.strokeStyle = "#000";
        ctx.lineWidth = 2.4;
        ctx.strokeRect(a.left, a.top, a.right - a.left, a.bottom - a.top);

        ctx.fillStyle = "#111";
        ctx.textBaseline = "middle";
        ctx.textAlign = "center";
        ctx.font = "58px 'Liberation Sans'";
        ctx.fillText(p.name, p.title[0] - ox, p.title[1] - oy);
        ctx.fillStyle = "#333";
        ctx.font = "52px 'Liberation Sans'";
        ctx.fillText(p.tag, p.letter[0] - ox, p.letter[1] - oy);

        const [lx0, lx1, tx, ly, step] = p.leg;
        const colors = [null, "#ff0000", GREEN, BLUE, BLACK50, BLUE, GREEN];
        legendLabels.forEach((label, i) => {
          const y = ly + step * i - oy;
          ctx.fillStyle = "#111";
          ctx.font = "30px 'DejaVu Sans'";
          ctx.textAlign = "left";
          ctx.fillText(label, tx - ox, y);
          if (i === 0) {
            ctx.fillStyle = SCATTER;
            ctx.beginPath();
            ctx.arc((lx0 + lx1) / 2 - ox, y + 3, 12, 0, Math.PI * 2);
            ctx.fill();
          } else {
            const short = i === 3 || i === 5 ? 6 : 0;
            ctx.strokeStyle = colors[i];
            ctx.lineWidth = 9;
            ctx.beginPath();
            ctx.moveTo(lx0 + short - ox, y - 1);
            ctx.lineTo(lx1 - short - ox, y - 1);
            ctx.stroke();
          }
        });

        ctx.fillStyle = "#111";
        drawStats(ctx, p.stat[0] - ox, p.stat[1] - oy, [
          { t: "R", it: true },
          { t: "2", sup: true },
          { t: EQ + p.stats[0] },
        ]);
        drawStats(ctx, p.stat[0] - ox, p.stat[2] - oy, [
          { t: "MB", it: true },
          { t: EQ + p.stats[1] },
        ]);
        drawStats(ctx, p.stat[0] - ox, p.stat[3] - oy, [
          { t: "RMSE", it: true },
          { t: EQ + p.stats[2] },
        ]);
        ctx.restore();
      },
    };
    const chart = new Chart(ref.current as any, {
      type: "scatter",
      data: {
        datasets: [
          {
            label: legendLabels[0],
            data: p.pts.map((q: number[]) => ({ x: q[0], y: q[1] })),
            pointRadius: 12.5,
            pointBorderWidth: 0,
            backgroundColor: SCATTER,
            borderColor: SCATTER,
            order: 7,
          },
          line(legendLabels[1], p.lines.best, "#ff0000", [], 6),
          line(legendLabels[2], p.lines.m2, GREEN, [], 5),
          line(legendLabels[3], p.lines.m1, BLUE, p.dash, 4),
          line(legendLabels[4], p.lines.best, BLACK50, [], 3),
          line(legendLabels[5], p.lines.p1, BLUE, p.dash, 2),
          line(legendLabels[6], p.lines.p2, GREEN, [], 1),
        ],
      } as any,
      options: {
        animation: false,
        responsive: false,
        devicePixelRatio: 1,
        layout: { padding: { left: 0, top: PAD_T, right: PAD_R, bottom: 0 } },
        plugins: { legend: { display: false }, tooltip: { enabled: false }, title: { display: false } },
        scales: {
          x: {
            type: "linear",
            min: p.xr[0],
            max: p.xr[1],
            afterBuildTicks: (s: any) => {
              s.ticks = p.xTicks.map((v: number) => ({ value: v }));
            },
            afterFit: (s: any) => {
              s.height = PAD_B;
            },
            grid: { drawOnChartArea: false, tickLength: 12, tickWidth: 2, tickColor: "#000" },
            border: { display: false },
            ticks: { color: "#111", font: TICK_FONT, padding: 10, maxRotation: 0, autoSkip: false },
          },
          y: {
            type: "linear",
            min: p.yr[0],
            max: p.yr[1],
            afterBuildTicks: (s: any) => {
              s.ticks = p.yTicks.map((v: number) => ({ value: v }));
            },
            afterFit: (s: any) => {
              s.width = PAD_L;
            },
            grid: { drawOnChartArea: false, tickLength: 12, tickWidth: 2, tickColor: "#000" },
            border: { display: false },
            ticks: { color: "#111", font: TICK_FONT, padding: 12, labelOffset: 3, autoSkip: false },
          },
        },
      } as any,
      plugins: [decor],
    });
    return () => chart.destroy();
  }, []);

  return (
    <canvas
      ref={ref}
      width={width}
      height={height}
      style={{ position: "absolute", left, top, width, height, display: "block" }}
    />
  );
}

function Rule({ x, y, w, h }: { x: number; y: number; w: number; h: number }) {
  return <div style={{ position: "absolute", left: x, top: y, width: w, height: h, background: "#000" }} />;
}

export default function App() {
  return (
    <div style={{ position: "absolute", left: 0, top: 0, width: 3601, height: 3671, background: "#fff", overflow: "hidden" }}>
      {panels.map((p) => (
        <PanelChart key={p.name} p={p} />
      ))}
      <Rule x={74} y={134} w={2.5} h={1441} />
      <Rule x={74} y={1912} w={2.5} h={1446} />
      <Rule x={257} y={3629} w={1448} h={2.5} />
      <Rule x={2032} y={3629} w={1449} h={2.5} />
      <div
        style={{
          position: "absolute",
          left: 68,
          top: 1738,
          transform: "translate(-50%,-50%) rotate(-90deg)",
          fontFamily: "'Liberation Sans'",
          fontSize: 76,
          lineHeight: 1,
          whiteSpace: "nowrap",
          color: "#111",
        }}
      >
        Heliosat-2
      </div>
      <div
        style={{
          position: "absolute",
          left: 1865,
          top: 3617,
          transform: "translate(-50%,-50%)",
          fontFamily: "'Liberation Sans'",
          fontSize: 76,
          lineHeight: 1,
          whiteSpace: "nowrap",
          color: "#111",
        }}
      >
        Ground
      </div>
    </div>
  );
}
